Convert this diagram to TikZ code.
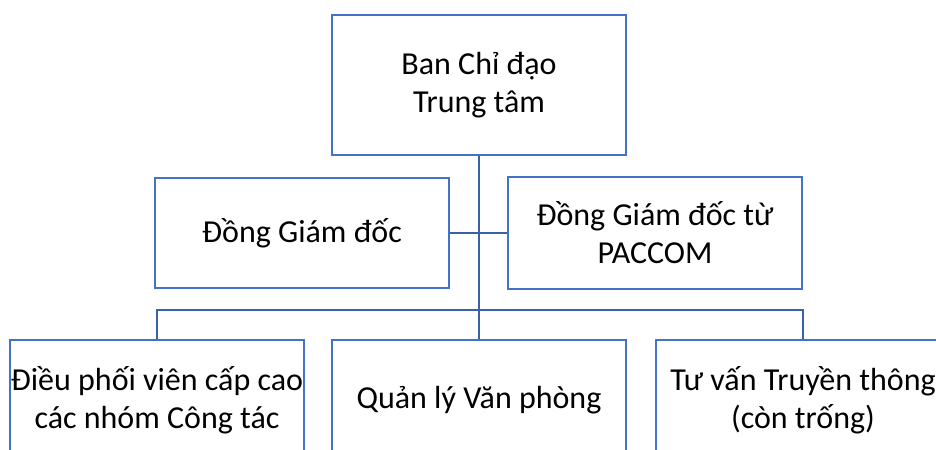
\documentclass[tikz,border=0pt]{standalone}
\usepackage{fontspec}
\setmainfont{Carlito}
\usepackage{tikz}
\usetikzlibrary{positioning}
\definecolor{boxblue}{HTML}{4472C4}
\definecolor{lineblue}{HTML}{3A60A8}

\begin{document}
\begin{tikzpicture}[x=0.75pt,y=-0.75pt]
\tikzstyle{orgbox}=[draw=boxblue,line width=1.6pt,fill=white,minimum width=220.5pt,align=center,font=\fontsize{24}{28.5}\selectfont,inner sep=0pt]
\tikzstyle{link}=[draw=lineblue,line width=2pt]
\useasboundingbox (0,0) rectangle (936,450);
\clip (0,0) rectangle (936,450);
\node [orgbox,minimum height=105pt] at (479,85) (c0) {Ban Chỉ đạo\\Trung tâm};
\node [orgbox,minimum height=82pt] at (302,233) (g1) {Đồng Giám đốc};
\node [orgbox,minimum height=84pt] at (655,233) (g2) {Đồng Giám đốc từ\\PACCOM};
\node [orgbox,minimum height=90pt] at (157,400) (s1) {Điều phối viên cấp cao\\các nhóm Công tác};
\node [orgbox,minimum height=90pt] at (479,400) (s2) {Quản lý Văn phòng};
\node [orgbox,minimum height=90pt] at (803,400) (s3) {Tư vấn Truyền thông\\(còn trống)};
\coordinate (bar) at (479,310);

\draw [link] (c0) -- (bar);
\draw [link] (g1) -- (g2);
\draw [link] (s1.north) |- (bar) -| (s3.north);
\draw [link] (bar) -- (s2.north);
\end{tikzpicture}
\end{document}
